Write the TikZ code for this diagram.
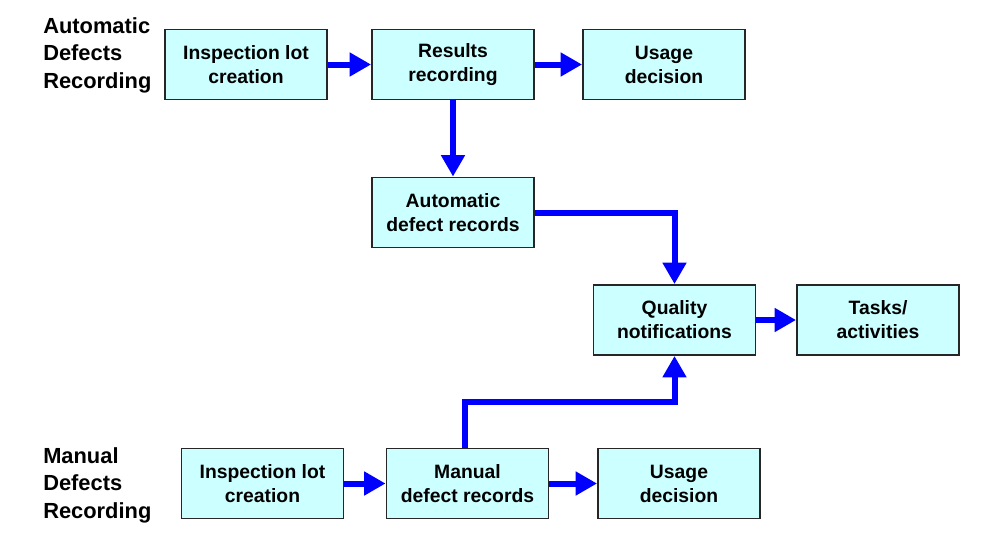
\documentclass[tikz,border=0pt]{standalone}
\usepackage{fontspec}
\setmainfont{Liberation Sans}
\usetikzlibrary{arrows.meta}
\definecolor{boxfill}{HTML}{CCFFFF}

\begin{document}
\begin{tikzpicture}[x=0.75pt, y=-0.75pt, >={Triangle[length=16pt, width=17pt]},
  step box/.style={draw=black!85, line width=1.4pt, fill=boxfill, minimum width=121.5pt,
    minimum height=52.5pt, align=center, inner sep=2pt,
    font=\fontsize{14.5}{18}\selectfont\bfseries},
  rowlabel/.style={anchor=west, align=left, inner sep=0pt,
    font=\fontsize{16.4}{20.6}\selectfont\bfseries},
  flow/.style={->, draw=blue, line width=4.5pt}]
  \useasboundingbox (0,0) rectangle (1004,533);
  % automatic path
  \node[rowlabel] (labelA) at (43,55) {Automatic\\Defects\\Recording};
  \node[step box] (inspA) at (246,64.5) {Inspection lot\\creation};
  \node[step box] (resA) at (453,64.5) {Results\\recording};
  \node[step box] (usageA) at (664,64.5) {Usage\\decision};
  \node[step box] (autoRec) at (453,212.5) {Automatic\\defect records};
  % notifications
  \node[step box] (qnotif) at (674.5,320) {Quality\\notifications};
  \node[step box] (tasks) at (878,320) {Tasks/\\activities};
  % manual path
  \node[rowlabel] (labelM) at (43,485) {Manual\\Defects\\Recording};
  \node[step box] (inspM) at (262.5,483.5) {Inspection lot\\creation};
  \node[step box] (manRec) at (467.5,483.5) {Manual\\defect records};
  \node[step box] (usageM) at (679,483.5) {Usage\\decision};
  \draw[flow] (inspA) -- (resA);
  \draw[flow] (resA) -- (usageA);
  \draw[flow] (resA) -- (autoRec);
  \draw[flow] (autoRec.east) -| (qnotif.north);
  \draw[flow] (qnotif) -- (tasks);
  \draw[flow] (inspM) -- (manRec);
  \draw[flow] (manRec) -- (usageM);
  \draw[flow] ([xshift=-2pt]manRec.north) -- ++(0,-46) -| (qnotif.south);
\end{tikzpicture}
\end{document}
